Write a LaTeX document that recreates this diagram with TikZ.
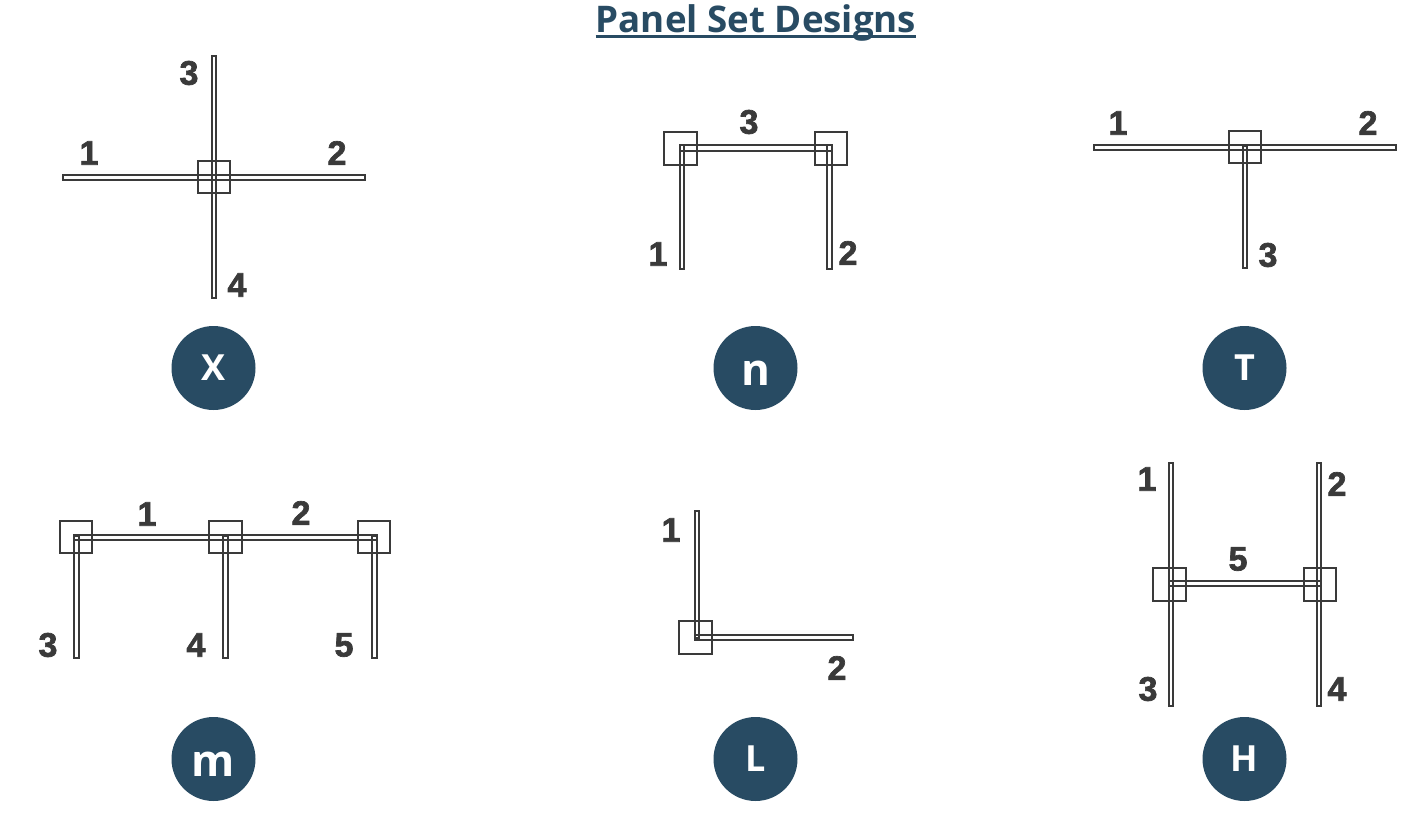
\documentclass[tikz,border=0pt]{standalone}
\usepackage{fontspec}
\setmainfont{Open Sans}
\newfontfamily\numfont[BoldFeatures={FakeBold=2}]{Liberation Sans}
\definecolor{navy}{HTML}{284B63}
\definecolor{ink}{HTML}{3A3A3A}
\tikzset{
  panel/.style={draw=ink,line width=2pt},
  post/.style={draw=ink,line width=2pt},
  num/.style={inner sep=0pt,text=ink,font=\numfont\fontsize{34}{34}\selectfont\bfseries},
  badge/.style={circle,fill=navy,minimum size=84pt,inner sep=0pt,text=white,font=\fontsize{36}{36}\selectfont\bfseries},
  badgebig/.style={badge,text height=34pt,text depth=0pt,font=\fontsize{44}{44}\selectfont\bfseries},
  titletext/.style={inner sep=0pt,text=navy,font=\fontsize{36.7}{36.7}\selectfont\bfseries}
}
\newcommand{\strip}[4]{\draw[panel] (#1pt,-#3pt) rectangle (#2pt,-#4pt);}
\newcommand{\sq}[4]{\draw[post] (#1pt,-#3pt) rectangle (#2pt,-#4pt);}
\newcommand{\numl}[4]{\node[num] (#1) at (#2pt,-#3pt) {#4};}
\begin{document}
\begin{tikzpicture}[x=1pt,y=1pt]
\useasboundingbox (0,0) rectangle (1411,-822);
\fill[white] (0,0) rectangle (1411,-822);
% title
\node[titletext,anchor=base] (title) at (756,-32) {Panel Set Designs};
\draw[navy,line width=3pt] ([yshift=-4.5pt]title.base west) -- ([yshift=-4.5pt]title.base east);
% X
\strip{62.5}{364.5}{174.5}{179.5}
\strip{211.5}{216}{55.5}{298}
\sq{197.5}{230}{160.5}{193}
\numl{xa}{89}{153}{1}\numl{xb}{337}{153}{2}\numl{xc}{189}{73}{3}\numl{xd}{237}{285}{4}
\node[badge] (bx) at (213.5,-368) {X};
% n
\strip{679.5}{831.5}{145}{151}
\strip{679.5}{684}{145}{269}
\strip{827}{831.5}{145}{269}
\sq{664}{696.5}{132}{164.5}
\sq{814.5}{847}{132}{164.5}
\numl{na}{658}{254}{1}\numl{nb}{848}{253}{2}\numl{nc}{749}{122}{3}
\node[badgebig] (bn) at (755.5,-368) {n};
% T
\strip{1093.5}{1395.5}{144.5}{149.5}
\strip{1242.5}{1247}{146}{268}
\sq{1228.5}{1261}{130.5}{163}
\numl{ta}{1118}{123}{1}\numl{tb}{1368}{123}{2}\numl{tc}{1268}{255}{3}
\node[badge] (bt) at (1244.5,-368) {T};
% m
\strip{73.5}{377}{534.5}{540}
\strip{73.5}{78.5}{536}{658}
\strip{223}{228}{536}{658}
\strip{372}{377}{536}{658}
\sq{59.5}{92}{520.5}{553}
\sq{209}{241.5}{520.5}{553}
\sq{357.5}{390}{520.5}{553}
\numl{ma}{147}{514}{1}\numl{mb}{301}{513}{2}\numl{mc}{48}{645}{3}\numl{md}{196}{645}{4}\numl{me}{344}{645}{5}
\node[badgebig] (bm) at (213.5,-759) {m};
% L
\strip{694.5}{699}{511}{638}
\strip{694.5}{853}{634.5}{640}
\sq{678.5}{712}{620.5}{654}
\numl{la}{671}{530}{1}\numl{lb}{837}{668}{2}
\node[badge] (bl) at (755.5,-759) {L};
% H
\strip{1168.5}{1173}{463}{706}
\strip{1316.5}{1321}{463}{706}
\strip{1168.5}{1321}{581}{586}
\sq{1153}{1186}{568}{600.5}
\sq{1303.5}{1336}{568}{600.5}
\numl{ha}{1147}{479}{1}\numl{hb}{1337}{484}{2}\numl{hc}{1148}{689}{3}\numl{hd}{1337}{689}{4}\numl{he}{1238}{559}{5}
\node[badge] (bh) at (1244.5,-759) {H};
\end{tikzpicture}
\end{document}
